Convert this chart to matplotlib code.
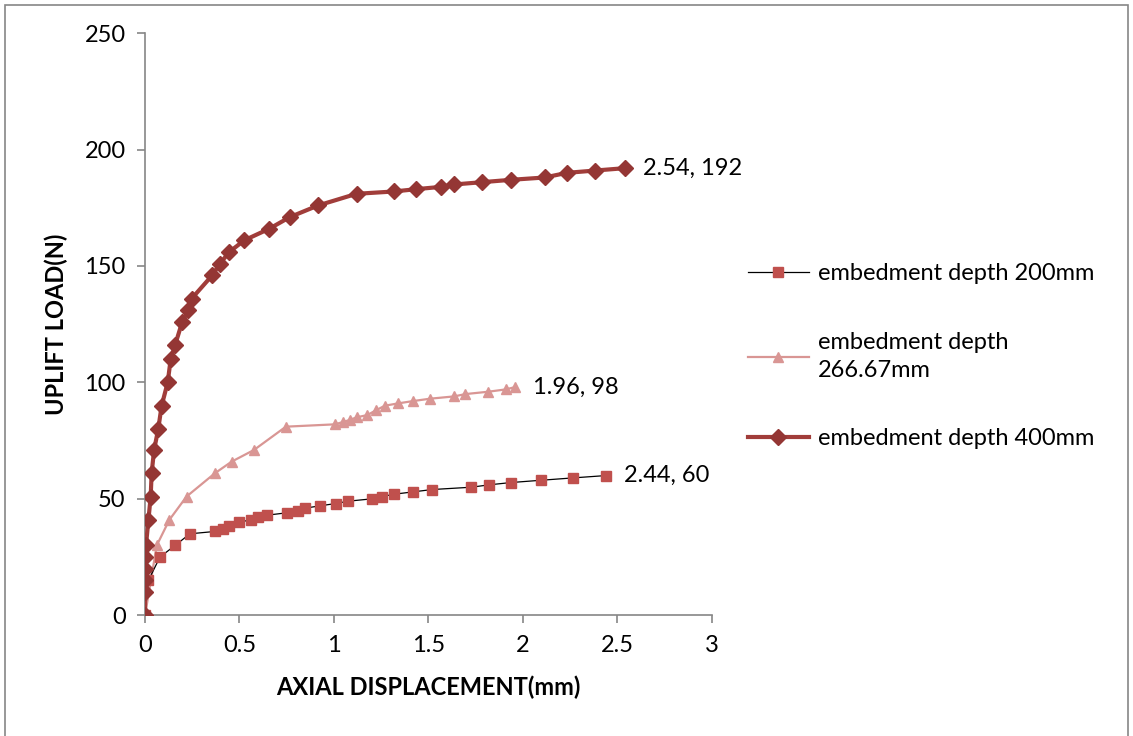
import numpy as np
import matplotlib.pyplot as plt
from matplotlib.patches import Rectangle

plt.rcParams['font.family'] = ['Lato', 'DejaVu Sans']

# embedment depth 200mm
x_200 = [0, 0.018, 0.079, 0.159, 0.238, 0.37, 0.414, 0.446, 0.499, 0.561, 0.6, 0.647,
         0.75, 0.808, 0.847, 0.926, 1.01, 1.076, 1.2, 1.256, 1.319, 1.42, 1.52, 1.728,
         1.82, 1.937, 2.099, 2.266, 2.44]
y_200 = [0, 15, 25, 30, 35, 36, 37, 38.5, 40, 41, 42, 43,
         44, 45, 46, 47, 48, 49, 50, 51, 52, 53, 54, 55,
         56, 57, 58, 59, 60]

# embedment depth 266.67mm
x_267 = [0, 0.062, 0.129, 0.22, 0.37, 0.459, 0.577, 0.746, 1.005, 1.049, 1.088, 1.12,
         1.178, 1.222, 1.27, 1.34, 1.42, 1.508, 1.637, 1.697, 1.817, 1.91, 1.96]
y_267 = [0, 30, 41, 51, 61, 66, 71, 81, 82, 83, 84, 85,
         86, 88, 90, 91, 92, 93, 94, 95, 96, 97, 98]

# embedment depth 400mm
x_400 = [0, 0, 0, 0, 0, 0.005, 0.018, 0.03, 0.035, 0.048, 0.07, 0.088, 0.12, 0.136,
         0.159, 0.197, 0.229, 0.247, 0.356, 0.397, 0.446, 0.525, 0.658, 0.767, 0.917,
         1.12, 1.319, 1.437, 1.57, 1.637, 1.786, 1.937, 2.116, 2.234, 2.385, 2.54]
y_400 = [0, 10, 15, 20, 25, 30, 41, 51, 61, 71, 80, 90, 100, 110,
         116, 126, 131, 136, 146, 151, 156, 161, 166, 171, 176,
         181, 182, 183, 184, 185, 186, 187, 188, 190, 191, 192]

fig = plt.figure(figsize=(11.33, 7.36), dpi=100)
ax = fig.add_axes([0.128, 0.164, 0.5, 0.791])

ax.plot(x_200, y_200, color='black', lw=0.9, marker='s', ms=7,
        mfc='#C0504D', mec='#C0504D', label='embedment depth 200mm', zorder=3)
ax.plot(x_267, y_267, color='#D99694', lw=1.6, marker='^', ms=6.5,
        mfc='#D99694', mec='#D99694', label='embedment depth\n266.67mm', zorder=2)
ax.plot(x_400, y_400, color='#A13D3A', lw=3, marker='D', ms=8.5,
        mfc='#943634', mec='#943634', label='embedment depth 400mm', zorder=4)

for xs, ys in [(x_400, y_400), (x_267, y_267), (x_200, y_200)]:
    ax.annotate(f'{xs[-1]:g}, {ys[-1]:g}', (xs[-1], ys[-1]), xytext=(13, 0),
                textcoords='offset points', va='center', ha='left', fontsize=17)

ax.set_xlim(0, 3)
ax.set_ylim(0, 250)
ax.set_xticks(np.arange(0, 3.01, 0.5))
ax.set_xticklabels(['0', '0.5', '1', '1.5', '2', '2.5', '3'])
ax.set_yticks(np.arange(0, 251, 50))

for side in ['top', 'right']:
    ax.spines[side].set_visible(False)
for side in ['left', 'bottom']:
    ax.spines[side].set_color('#868686')
    ax.spines[side].set_linewidth(1.2)
ax.tick_params(direction='out', length=6, width=1.2, color='#868686',
               labelsize=17, pad=8)

ax.set_xlabel('AXIAL DISPLACEMENT(mm)', fontsize=17, fontweight='bold', labelpad=14)
ax.set_ylabel('UPLIFT LOAD(N)', fontsize=17, fontweight='bold', labelpad=12)

leg = fig.legend(loc='upper left', bbox_to_anchor=(0.641, 0.671), frameon=False,
                 fontsize=17, handlelength=2.6, labelspacing=2.0, handletextpad=0.4)
for t in leg.get_texts():
    t.set_linespacing(1.45)

fig.patches.append(Rectangle((0.004, -0.01), 0.992, 1.003, transform=fig.transFigure,
                             fill=False, edgecolor='#868686', lw=1.2))

fig.savefig('out.png', dpi=100)
